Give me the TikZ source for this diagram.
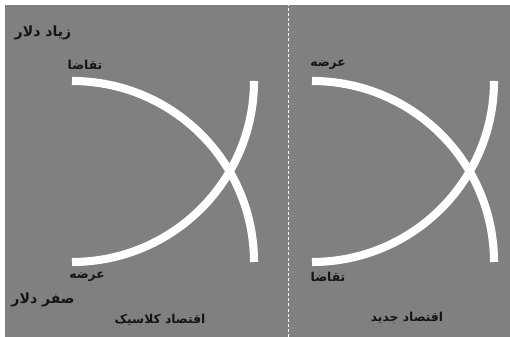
\documentclass[tikz,border=0pt]{standalone}
\usepackage{fontspec}
\TeXXeTstate=1
\newfontfamily\arabicfont[Script=Arabic]{DejaVu Sans}
\definecolor{panelgray}{HTML}{808080}
\definecolor{labelink}{HTML}{141414}

\begin{document}
\begin{tikzpicture}[x=0.02cm, y=0.02cm,
    every node/.style={font=\arabicfont\bfseries\scriptsize, text=labelink, inner sep=0pt},
    curve/.style={white, line width=4.6pt},
    axislabel/.style={font=\arabicfont\bfseries\footnotesize}]
  \useasboundingbox[fill=white] (0,0) rectangle (510,337);
  \fill[panelgray] (5,0) rectangle (510,332);

  % Separator between the two panels
  \draw[white, line width=0.5pt, dash pattern=on 1.7pt off 1.2pt] (288,0) -- (288,332);

  % Classical panel
  \draw[curve] (72,256) arc[start angle=90, end angle=0, x radius=182, y radius=181];
  \draw[curve] (72,75) arc[start angle=-90, end angle=0, x radius=182, y radius=181];
  \node[axislabel] (high) at (43,304) {\beginR زیاد دلار\endR};
  \node[axislabel] (zero) at (43,37) {\beginR صفر دلار\endR};
  \node (demandL) at (85,272) {\beginR تقاضا\endR};
  \node (supplyL) at (87,60) {\beginR عرضه\endR};
  \node (classic) at (160,17) {\beginR اقتصاد کلاسیک\endR};

  % New panel
  \draw[curve] (312,256) arc[start angle=90, end angle=0, x radius=182, y radius=181];
  \draw[curve] (312,75) arc[start angle=-90, end angle=0, x radius=182, y radius=181];
  \node (supplyR) at (328,272) {\beginR عرضه\endR};
  \node (demandR) at (328,60) {\beginR تقاضا\endR};
  \node (newecon) at (407,19) {\beginR اقتصاد جدید\endR};
\end{tikzpicture}
\end{document}
